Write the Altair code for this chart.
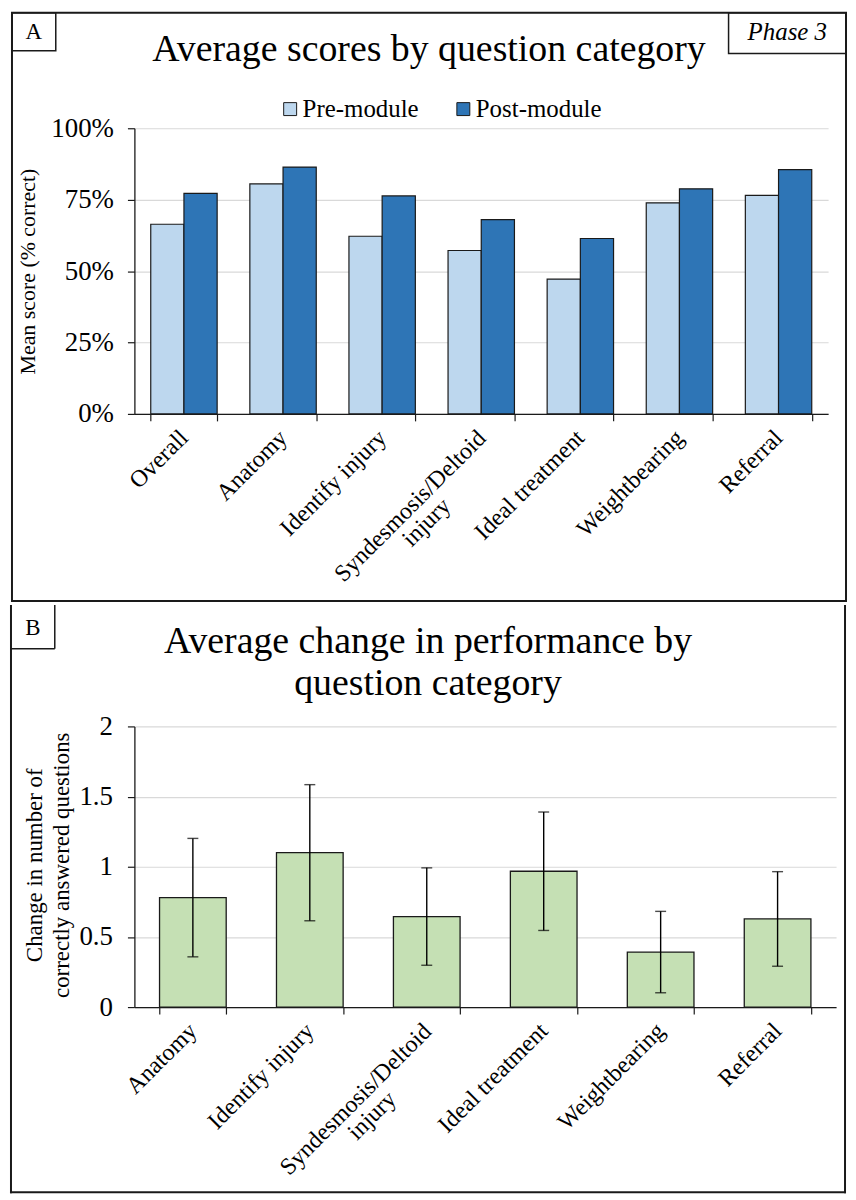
import altair as alt
import pandas as pd

# ---------------- data ----------------
categories_a = ["Overall", "Anatomy", "Identify injury", "Syndesmosis/Deltoid injury",
                "Ideal treatment", "Weightbearing", "Referral"]
pre_scores = [0.664, 0.805, 0.622, 0.572, 0.472, 0.739, 0.765]
post_scores = [0.772, 0.864, 0.763, 0.680, 0.614, 0.788, 0.855]
series_names = ["Pre-module", "Post-module"]
series_colors = ["#BDD7EE", "#2E75B6"]

categories_b = ["Anatomy", "Identify injury", "Syndesmosis/Deltoid injury",
                "Ideal treatment", "Weightbearing", "Referral"]
change_mean = [0.780, 1.100, 0.645, 0.968, 0.392, 0.628]
change_err = [0.422, 0.485, 0.347, 0.422, 0.290, 0.337]
bar_color_b = "#C5E0B4"

y_ticks_a = [0, 0.25, 0.5, 0.75, 1.0]
y_ticks_b = [0, 0.5, 1, 1.5, 2]

title_a = "Average scores by question category"
title_b = ["Average change in performance by", "question category"]
ytitle_a = "Mean score (% correct)"
ytitle_b = ["Change in number of", "correctly answered questions"]
panel_tags = ["A", "B"]
phase_tag = "Phase 3"

FONT = "Liberation Serif"
INK = "#1a1a1a"

df_a = pd.DataFrame({
    "category": categories_a * 2,
    "series": [series_names[0]] * len(categories_a) + [series_names[1]] * len(categories_a),
    "score": pre_scores + post_scores,
})
df_b = pd.DataFrame({"category": categories_b, "change": change_mean, "err": change_err})

TWO_LINE = "Syndesmosis/Deltoid injury"
is_two = "datum.value == '" + TWO_LINE + "'"
label_expr = is_two + " ? ['Syndesmosis/Deltoid', 'injury'] : datum.label"
BASE_PAD = 13


def cond(v_two, v_other):
    return {"condition": {"test": is_two, "value": v_two}, "value": v_other}


def x_axis():
    return alt.Axis(title=None, labelAngle=-45,
                    labelAlign=cond("center", "right"),
                    labelBaseline=cond("top", "middle"),
                    labelOffset=cond(-80, 0),
                    labelPadding=cond(BASE_PAD + 64, BASE_PAD),
                    labelFont=FONT, labelFontSize=24, labelColor="black", labelExpr=label_expr,
                    labelLineHeight=23, labelLimit=400, labelOverlap=False,
                    tickBand="extent", tickSize=7, tickColor=INK, tickWidth=1.2,
                    domainColor=INK, domainWidth=1.3, grid=False)


def one(**kw):
    return pd.DataFrame({k: [v] for k, v in kw.items()})


def text_layer(text, x, y, size, style="normal"):
    return alt.Chart(one(t=text)).mark_text(
        font=FONT, fontSize=size, fontStyle=style, align="center",
        baseline="alphabetic", color="black"
    ).encode(x=alt.value(x), y=alt.value(y), text="t:N")


def box_layer(x, x2, y, y2, width):
    return alt.Chart(one(b=0)).mark_rect(
        fillOpacity=0, stroke=INK, strokeWidth=width
    ).encode(x=alt.value(x), x2=alt.value(x2), y=alt.value(y), y2=alt.value(y2))


def vrule(x, y, y2, width):
    return alt.Chart(one(b=0)).mark_rule(color=INK, strokeWidth=width).encode(
        x=alt.value(x), y=alt.value(y), y2=alt.value(y2))


def hrule(x, x2, y, width):
    return alt.Chart(one(b=0)).mark_rule(color=INK, strokeWidth=width).encode(
        x=alt.value(x), x2=alt.value(x2), y=alt.value(y))


# ---------------- panel A ----------------
WA, HA = 697, 287
bars_a = alt.Chart(df_a).mark_bar(stroke=INK, strokeWidth=1.2).encode(
    x=alt.X("category:N", sort=categories_a,
            scale=alt.Scale(paddingInner=0.33, paddingOuter=0.165), axis=x_axis()),
    xOffset=alt.XOffset("series:N", sort=series_names,
                        scale=alt.Scale(paddingInner=0, paddingOuter=0)),
    y=alt.Y("score:Q", scale=alt.Scale(domain=[0, 1], nice=False),
            axis=alt.Axis(values=y_ticks_a, format=".0%", title=ytitle_a,
                          titleFont=FONT, titleFontSize=22, titleFontWeight="normal",
                          titleColor="black", titleX=-95, titleY=HA / 2,
                          labelFont=FONT, labelFontSize=27, labelColor="black",
                          labelPadding=14, tickSize=7, tickColor=INK, tickWidth=1.2,
                          domainColor=INK, domainWidth=1.3,
                          grid=True, gridColor="#d9d9d9", gridWidth=1.2)),
    color=alt.Color("series:N", sort=series_names,
                    scale=alt.Scale(domain=series_names, range=series_colors),
                    legend=alt.Legend(title=None, orient="none", legendX=144, legendY=-32,
                                      direction="horizontal", symbolType="square",
                                      symbolSize=169, symbolStrokeColor=INK,
                                      symbolStrokeWidth=1, labelFont=FONT, labelFontSize=25,
                                      labelColor="black", columnPadding=32, labelOffset=0)),
)

panel_a = alt.layer(
    box_layer(-123, 715, -116, 475, 2),
    box_layer(-123, -79, -116, -78, 1.5),
    box_layer(597, 715, -116, -75, 1.5),
    text_layer(panel_tags[0], -101, -90, 23),
    text_layer(phase_tag, 656, -89, 25, "italic"),
    text_layer(title_a, 296, -68, 38),
    bars_a,
).properties(width=WA, height=HA)

# ---------------- panel B ----------------
WB, HB = 705, 282
xb = alt.X("category:N", sort=categories_b,
           scale=alt.Scale(paddingInner=0.43, paddingOuter=0.215), axis=x_axis())
base_b = alt.Chart(df_b).transform_calculate(
    low="datum.change - datum.err", high="datum.change + datum.err")

bars_b = base_b.mark_bar(color=bar_color_b, stroke=INK, strokeWidth=1.3).encode(
    x=xb,
    y=alt.Y("change:Q", scale=alt.Scale(domain=[0, 2], nice=False),
            axis=alt.Axis(values=y_ticks_b, format="~g", title=ytitle_b,
                          titleFont=FONT, titleFontSize=23, titleFontWeight="normal",
                          titleColor="black", titleLineHeight=27, titleX=-88, titleY=139,
                          labelFont=FONT, labelFontSize=27, labelColor="black",
                          labelPadding=15, tickSize=7, tickColor=INK, tickWidth=1.2,
                          domainColor=INK, domainWidth=1.3,
                          grid=True, gridColor="#d9d9d9", gridWidth=1.2)),
)
rule_b = base_b.mark_rule(color="black", strokeWidth=1.4).encode(
    x=xb, y="low:Q", y2="high:Q")
cap_lo = base_b.mark_tick(color="black", thickness=1.4, size=11).encode(x=xb, y="low:Q")
cap_hi = base_b.mark_tick(color="black", thickness=1.4, size=11).encode(x=xb, y="high:Q")

panel_b = alt.layer(
    vrule(-124, -122, 469, 2),
    vrule(714, -122, 469, 2),
    hrule(-125, 715, 468, 2),
    vrule(-80, -122, -78, 1.5),
    hrule(-124, -80, -78, 1.5),
    text_layer(panel_tags[1], -102, -92, 23),
    text_layer(title_b[0], 295, -74, 38),
    text_layer(title_b[1], 295, -32, 38),
    bars_b, rule_b, cap_lo, cap_hi,
).properties(width=WB, height=HB)

chart = alt.vconcat(panel_a, panel_b, spacing=0).properties(
    padding={"left": 0, "top": 0, "right": 0, "bottom": 0}, background="white"
).configure(padding={"left": 0, "top": 0, "right": 0, "bottom": 0}
).configure_view(stroke="transparent")

chart.save("out.html", embed_options={"renderer": "svg", "actions": False})
